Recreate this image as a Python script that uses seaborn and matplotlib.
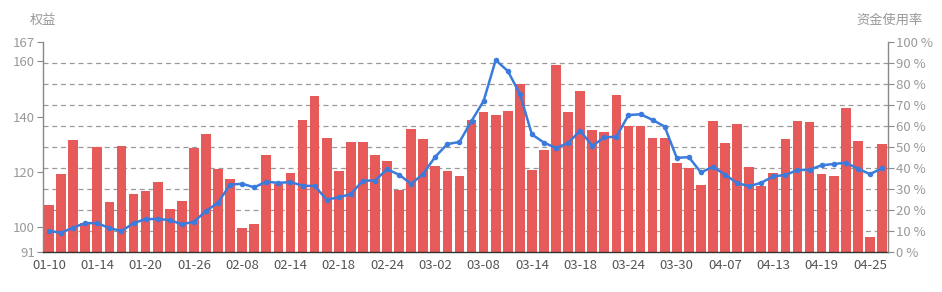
import numpy as np
import pandas as pd
import matplotlib
matplotlib.use("Agg")
import matplotlib.pyplot as plt
from matplotlib.ticker import FixedLocator, FuncFormatter
import seaborn as sns

# ---- data ----
tick_labels = ["01-10", "01-14", "01-20", "01-26", "02-08", "02-14", "02-18", "02-24",
               "03-02", "03-08", "03-14", "03-18", "03-24", "03-30", "04-07", "04-13",
               "04-19", "04-25"]

equity = [108.0, 119.2, 131.6, 101.5, 128.9, 109.0, 129.2, 112.1, 113.0, 116.2,
          106.6, 109.6, 128.7, 133.6, 121.1, 117.6, 99.6, 101.2, 126.1, 115.7,
          119.5, 138.6, 147.3, 132.1, 120.3, 130.7, 130.7, 126.0, 123.9, 113.3,
          135.5, 131.8, 122.0, 120.2, 118.5, 138.7, 141.5, 140.4, 142.0, 151.9,
          120.7, 127.9, 158.6, 141.6, 149.2, 135.0, 134.4, 148.0, 136.6, 136.6,
          132.3, 132.3, 123.3, 121.4, 115.1, 138.5, 130.3, 137.5, 121.7, 114.8,
          119.6, 131.8, 138.5, 138.1, 119.1, 118.6, 143.0, 131.3, 96.5, 130.2]

usage = [10.0, 9.2, 11.6, 13.8, 13.7, 11.4, 10.0, 13.7, 15.7, 15.7,
         15.2, 13.2, 14.4, 19.5, 23.5, 32.1, 32.5, 30.8, 33.5, 32.9,
         33.3, 31.6, 31.4, 25.0, 26.0, 27.6, 34.0, 34.0, 39.4, 36.8,
         32.4, 37.3, 45.4, 51.4, 52.4, 62.4, 71.9, 91.4, 86.2, 75.4,
         56.0, 52.1, 49.5, 51.9, 57.8, 50.5, 54.6, 54.9, 65.2, 65.6,
         62.9, 59.7, 44.8, 45.2, 37.9, 40.6, 36.8, 32.9, 31.3, 33.0,
         36.0, 36.7, 39.0, 39.2, 41.3, 41.9, 42.5, 39.7, 37.1, 39.8]

left_ticks = [91, 100, 120, 140, 160, 167]
right_ticks = [0, 10, 20, 30, 40, 50, 60, 70, 80, 90, 100]
left_min, left_max = 91, 167

df = pd.DataFrame({"idx": np.arange(len(equity)), "equity": equity, "usage": usage})

BAR = "#e65a5a"
LINE = "#3a7bdc"
GRAY = "#999999"

sns.set_style("white")
plt.rcParams["font.family"] = ["Noto Sans CJK SC", "DejaVu Sans"]

fig = plt.figure(figsize=(9.42, 2.92), dpi=100)
ax = fig.add_axes([43 / 942, 1 - 252 / 292, (888 - 43) / 942, 210 / 292])

sns.barplot(data=df, x="idx", y="equity", ax=ax, color=BAR, saturation=1,
            width=0.8, linewidth=0, zorder=2)
ax.set_ylim(left_min, left_max)
ax.set_xlim(-0.5, len(equity) - 0.5)
ax.set_xlabel("")
ax.set_ylabel("")

# gridlines aligned with right-axis percentages (drawn behind bars)
grid_pos = [left_min + p / 100 * (left_max - left_min) for p in right_ticks[1:]]
ax.yaxis.set_minor_locator(FixedLocator(grid_pos))
ax.grid(False)
ax.grid(which="minor", axis="y", linestyle=(0, (4, 3)), color="#9a9a9a", linewidth=0.9)
ax.set_axisbelow(True)
ax.set_yticks(left_ticks)
ax.tick_params(axis="y", which="major", length=4, color="#888888", labelcolor=GRAY,
               labelsize=9.5, pad=2)
ax.tick_params(axis="y", which="minor", length=0)

label_pos = list(range(0, len(equity), 4))
ax.set_xticks(label_pos)
ax.set_xticklabels(tick_labels)
ax.xaxis.set_minor_locator(FixedLocator(list(range(2, len(equity), 4))))
ax.tick_params(axis="x", which="major", length=0, labelcolor="#555555", labelsize=9.5, pad=5)
ax.tick_params(axis="x", which="minor", length=5, width=1, color="#333333", direction="out")

for s in ["top", "right"]:
    ax.spines[s].set_visible(False)
ax.spines["left"].set_color("#888888")
ax.spines["bottom"].set_color("#333333")
ax.spines["left"].set_linewidth(1)
ax.spines["bottom"].set_linewidth(1)

ax2 = ax.twinx()
sns.lineplot(data=df, x="idx", y="usage", ax=ax2, color=LINE, linewidth=1.8,
             marker="o", markersize=4, markeredgewidth=0, zorder=5)
ax2.set_ylim(0, 100)
ax2.set_yticks(right_ticks)
ax2.yaxis.set_major_formatter(FuncFormatter(lambda v, p: f"{int(v)} %"))
ax2.tick_params(axis="y", length=4, color="#888888", labelcolor=GRAY, labelsize=9.5, pad=2)
ax2.set_ylabel("")
ax2.set_xlabel("")
for s in ["top", "left", "bottom"]:
    ax2.spines[s].set_visible(False)
ax2.spines["right"].set_color("#888888")
ax2.spines["right"].set_linewidth(1)
ax2.grid(False)

fig.text(43 / 942, 1 - 20 / 292, "权益", ha="center", va="center", color=GRAY, fontsize=9.5)
fig.text(889 / 942, 1 - 20 / 292, "资金使用率", ha="center", va="center", color=GRAY, fontsize=9.5)

fig.savefig("out.png", dpi=100)
